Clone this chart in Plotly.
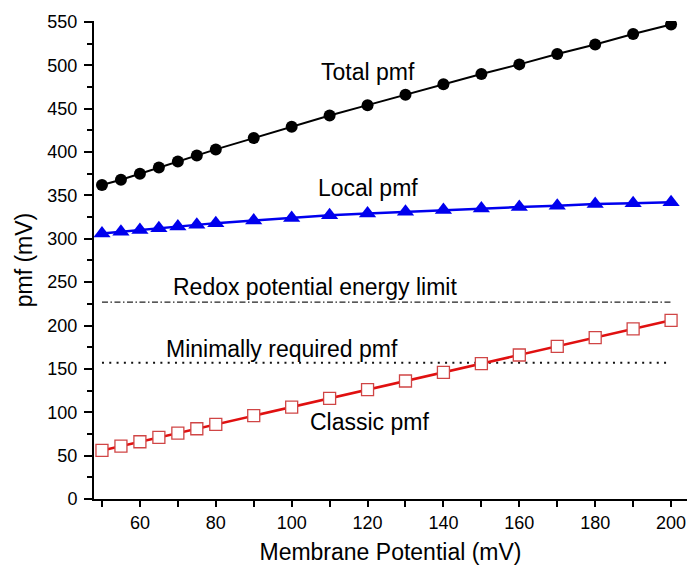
import plotly.graph_objects as go

# ---- data ----
membrane_potential = [50, 55, 60, 65, 70, 75, 80, 90, 100, 110, 120, 130, 140, 150, 160, 170, 180, 190, 200]
total_pmf = [362, 368, 375, 382, 389, 396, 403, 416, 429, 442, 454, 466, 478, 490, 501, 513, 524, 536, 547]
local_pmf = [306, 308, 310, 312, 314, 316, 318, 321, 324, 327, 329, 331, 333, 335, 336.5, 338, 340, 341, 342]
classic_pmf = [56, 61, 66, 71, 76, 81, 86, 96, 106, 116, 126, 136, 146, 156, 166, 176, 186, 196, 206]
limit_x = [50, 200]
redox_limit = [227, 227]
min_required = [157, 157]

FONT = "Liberation Sans, Arial, sans-serif"

fig = go.Figure()

fig.add_trace(go.Scatter(x=limit_x, y=redox_limit, mode="lines",
                         line=dict(color="#222222", width=1.3, dash="6px,2.5px,1.5px,2.5px"),
                         showlegend=False, hoverinfo="skip"))
fig.add_trace(go.Scatter(x=limit_x, y=min_required, mode="lines",
                         line=dict(color="#111111", width=2, dash="2px,5.3px"),
                         showlegend=False, hoverinfo="skip"))

fig.add_trace(go.Scatter(x=membrane_potential, y=total_pmf, mode="lines+markers",
                         line=dict(color="black", width=2),
                         marker=dict(symbol="circle", size=12, color="black"),
                         showlegend=False))
fig.add_trace(go.Scatter(x=membrane_potential, y=local_pmf, mode="lines+markers",
                         line=dict(color="#0000ee", width=2.5),
                         marker=dict(symbol="triangle-up", size=15, color="#0000ee"),
                         showlegend=False))
fig.add_trace(go.Scatter(x=membrane_potential, y=classic_pmf, mode="lines+markers",
                         line=dict(color="#e01010", width=2.5),
                         marker=dict(symbol="square", size=12, color="white",
                                     line=dict(color="#d04545", width=1.3)),
                         showlegend=False))

labels = [
    ("Total pmf", 120.1, 492),
    ("Local pmf", 120.1, 358),
    ("Redox potential energy limit", 106.2, 244),
    ("Minimally required pmf", 97.5, 173),
    ("Classic pmf", 120.4, 89),
]
for text, lx, ly in labels:
    fig.add_annotation(x=lx, y=ly, text=text, showarrow=False,
                       font=dict(family=FONT, size=23, color="black"),
                       xanchor="center", yanchor="middle")

fig.update_layout(
    width=687, height=571,
    margin=dict(l=94, r=0, t=21, b=72),
    paper_bgcolor="white", plot_bgcolor="white",
    font=dict(family=FONT, color="black"),
)

fig.update_xaxes(
    range=[47.9, 204.2], showgrid=False, zeroline=False,
    showline=True, linecolor="black", linewidth=2,
    ticks="outside", ticklen=6, tickwidth=1.5, tickcolor="black",
    tick0=60, dtick=20, ticklabeloverflow="allow",
    minor=dict(dtick=10, tick0=50, ticks="outside", ticklen=6, tickwidth=1.5, tickcolor="black"),
    tickfont=dict(family=FONT, size=18, color="black"),
    title=dict(text="Membrane Potential (mV)", font=dict(family=FONT, size=23, color="black"), standoff=12),
)
fig.update_yaxes(
    range=[0, 551], showgrid=False, zeroline=False,
    showline=True, linecolor="black", linewidth=2,
    ticks="outside", ticklen=8, tickwidth=1.5, tickcolor="black",
    tick0=0, dtick=50, ticklabelstandoff=3,
    minor=dict(dtick=25, ticks="outside", ticklen=5, tickwidth=1.5, tickcolor="black"),
    tickfont=dict(family=FONT, size=18, color="black"),
    title=dict(text="pmf (mV)", font=dict(family=FONT, size=23, color="black"), standoff=8),
)

fig.write_html(
    "out.html",
    config={"displayModeBar": False},
    post_script="document.body.style.margin='0';document.body.style.overflow='hidden';",
)
